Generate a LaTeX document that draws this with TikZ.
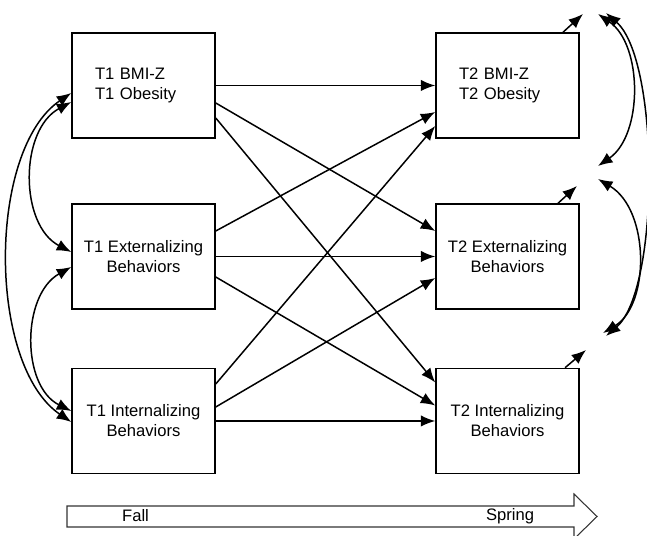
\documentclass[tikz,border=0pt]{standalone}
\usepackage{fontspec}
\setmainfont{Liberation Sans}
\usetikzlibrary{arrows.meta,positioning}

\begin{document}
\begin{tikzpicture}[x=1cm,y=1cm,>={Latex[length=2.9mm,width=2.3mm]},line width=0.85pt,
    var/.style={draw,minimum width=28.6mm,minimum height=21mm,align=center,
                font=\fontsize{9.45}{11.4}\selectfont},
    weight/.style={var,align=left,text width=19.4mm},
    season/.style={font=\fontsize{9.45}{11.4}\selectfont}]
    \useasboundingbox (0,0) rectangle (12.94,10.72);
    % time 1
    \node[weight] (bmi1) at (2.87,9.01) {T1 BMI-Z\\T1 Obesity};
    \node[var] (ext1) at (2.87,5.59) {T1 Externalizing\\Behaviors};
    \node[var] (int1) at (2.87,2.30) {T1 Internalizing\\Behaviors};
    % time 2
    \node[weight] (bmi2) at (10.15,9.01) {T2 BMI-Z\\T2 Obesity};
    \node[var] (ext2) at (10.15,5.59) {T2 Externalizing\\Behaviors};
    \node[var] (int2) at (10.15,2.30) {T2 Internalizing\\Behaviors};

    % stability and cross-lagged paths
    \draw[->] (bmi1.east)--(bmi2.west);
    \draw[->] ([yshift=-3.5mm]bmi1.east)--([yshift=5.1mm]ext2.west);
    \draw[->] ([yshift=-6.5mm]bmi1.east)--([yshift=7.7mm]int2.west);
    \draw[->] ([yshift=5.1mm]ext1.east)--([yshift=-5.3mm]bmi2.west);
    \draw[->] (ext1.east)--(ext2.west);
    \draw[->] ([yshift=-4.1mm]ext1.east)--([yshift=3.1mm]int2.west);
    \draw[->] ([yshift=7.4mm]int1.east)--([yshift=-8.1mm]bmi2.west);
    \draw[->] ([yshift=2.8mm]int1.east)--([yshift=-4.3mm]ext2.west);
    \draw[->] (int1.east)--(int2.west);

    % residuals at T2
    \coordinate (d1) at (11.66,10.44);
    \coordinate (d2) at (11.54,7.00);
    \coordinate (d3) at (11.72,3.72);
    \draw[->] ([xshift=11.1mm]bmi2.north)--(d1);
    \draw[->] ([xshift=10.1mm]ext2.north)--(d2);
    \draw[->] ([xshift=11.5mm]int2.north)--(d3);
    \draw[<->] ([xshift=3mm]d1) .. controls +(0.9,-0.62) and +(0.9,0.62) .. ([shift={(0.42,0.40)}]d2);
    \draw[<->] ([shift={(0.42,0.14)}]d2) .. controls +(1.04,-0.62) and +(0.94,0.56) .. ([shift={(0.34,0.34)}]d3);
    \draw[<->] ([shift={(0.46,0.02)}]d1) .. controls +(1.08,-0.94) and +(1.08,0.92) .. ([shift={(0.40,0.28)}]d3);

    % T1 correlations
    \draw[<->] ([yshift=-1.5mm]bmi1.west) .. controls +(-1.68,-1.14) and +(-1.68,1.14) .. ([yshift=-0.2mm]int1.west);
    \draw[<->] ([yshift=-3.3mm]bmi1.west) .. controls +(-1.04,-0.56) and +(-1.04,0.54) .. ([yshift=0.9mm]ext1.west);
    \draw[<->] ([yshift=-2.1mm]ext1.west) .. controls +(-1.0,-0.56) and +(-1.0,0.5) .. ([yshift=2mm]int1.west);

    % time line
    \draw[line width=0.6pt,black!80] (1.34,0.60)--(11.48,0.60)--(11.48,0.84)--(11.94,0.39)
        --(11.48,-0.06)--(11.48,0.18)--(1.34,0.18)--cycle;
    \node[season] (fall) at (2.71,0.40) {Fall};
    \node[season] (spring) at (10.2,0.40) {Spring};
\end{tikzpicture}
\end{document}
